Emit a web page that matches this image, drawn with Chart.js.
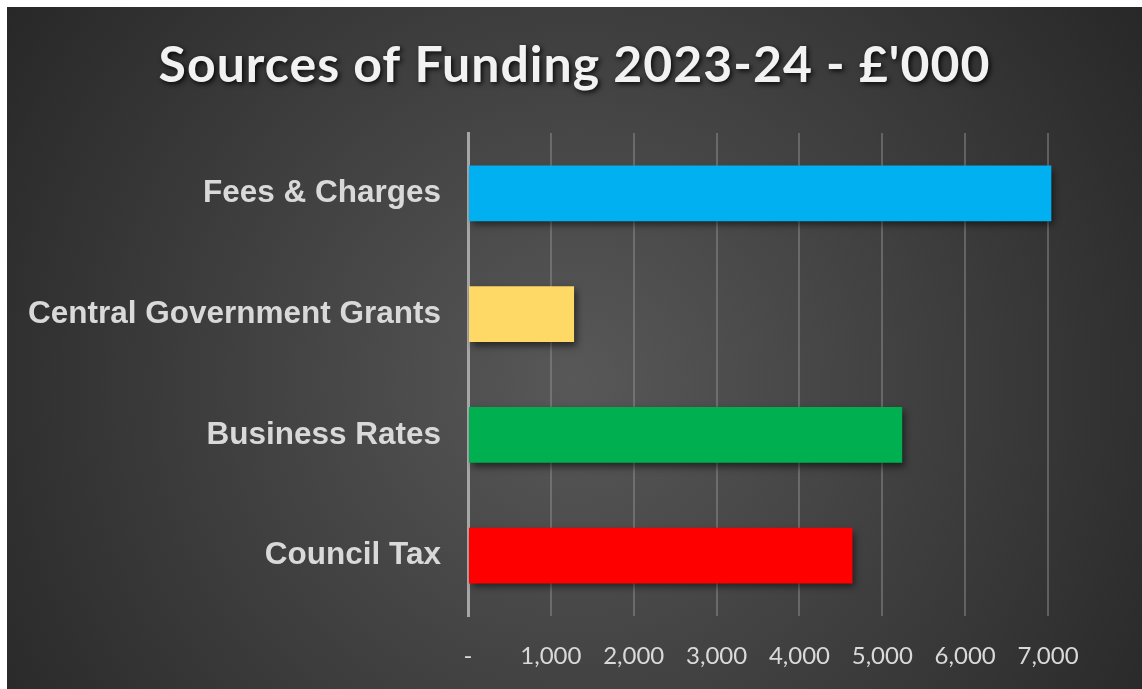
<!DOCTYPE html>
<html>
<head>
<meta charset="utf-8">
<script src="https://cdn.jsdelivr.net/npm/chart.js@4/dist/chart.umd.min.js"></script>
<style>
  html, body { margin: 0; background: #fff; }
  #wrap { position: absolute; left: 7px; top: 7px; width: 1135px; height: 682px; }
</style>
</head>
<body>
<div id="wrap"><canvas id="chart"></canvas></div>
<script>
// data (£'000)
const categories = ['Fees & Charges', 'Central Government Grants', 'Business Rates', 'Council Tax'];
const funding = [7040, 1280, 5240, 4640];
const barColours = ['#00B0F0', '#FFD966', '#00B050', '#FF0000'];
const tickValues = [0, 1000, 2000, 3000, 4000, 5000, 6000, 7000];

// dark radial backdrop + shadow on the title
const backdrop = {
  id: 'backdrop',
  beforeDraw(chart) {
    const { ctx, width, height } = chart;
    const g = ctx.createRadialGradient(width * 0.5, height * 0.55, 0, width * 0.5, height * 0.55, width * 0.62);
    g.addColorStop(0, '#585858');
    g.addColorStop(1, '#262626');
    ctx.save();
    ctx.fillStyle = g;
    ctx.fillRect(0, 0, width, height);
    ctx.restore();

    const tb = chart.titleBlock;
    if (tb && !tb._shadowed) {
      const orig = tb.draw.bind(tb);
      tb.draw = function (area) {
        const c = chart.ctx;
        c.save();
        c.letterSpacing = '1px';
        c.shadowColor = 'rgba(0,0,0,0.85)';
        c.shadowBlur = 5;
        c.shadowOffsetX = 2;
        c.shadowOffsetY = 2;
        orig(area);
        c.restore();
      };
      tb._shadowed = true;
    }
  }
};

const barShadow = {
  id: 'barShadow',
  beforeDatasetsDraw(chart) {
    const c = chart.ctx;
    c.save();
    c.shadowColor = 'rgba(0,0,0,0.55)';
    c.shadowBlur = 7;
    c.shadowOffsetX = 3;
    c.shadowOffsetY = 4;
  },
  afterDatasetsDraw(chart) {
    chart.ctx.restore();
  }
};

new Chart(document.getElementById('chart'), {
  type: 'bar',
  data: {
    labels: categories,
    datasets: [{
      data: funding,
      backgroundColor: barColours,
      borderWidth: 0,
      barPercentage: 0.46,
      categoryPercentage: 1,
    }]
  },
  options: {
    indexAxis: 'y',
    responsive: true,
    maintainAspectRatio: false,
    animation: false,
    layout: { padding: 0 },
    plugins: {
      legend: { display: false },
      tooltip: { enabled: false },
      title: {
        display: true,
        text: "Sources of Funding 2023-24 - £'000",
        color: '#f2f2f2',
        font: { family: 'Lato', size: 50, weight: 'bold' },
        padding: { top: 29, bottom: 37 }
      }
    },
    scales: {
      x: {
        min: 0,
        max: 8134, // axis runs past the last tick, empty space on the right
        afterBuildTicks(s) { s.ticks = tickValues.map(v => ({ value: v })); },
        afterFit(s) { s.height = 73; },
        grid: {
          color: c => (c.tick && c.tick.value === 0) ? 'rgba(0,0,0,0)' : 'rgba(150,150,150,0.45)',
          lineWidth: 2,
          drawTicks: false
        },
        border: { display: false },
        ticks: {
          color: '#d9d9d9',
          font: { family: 'Lato', size: 24 },
          padding: 26,
          callback: v => v === 0 ? '-' : v.toLocaleString('en-GB')
        }
      },
      y: {
        afterFit(s) { s.width = 461; },
        grid: { display: false },
        border: { color: '#a6a6a6', width: 3 },
        ticks: {
          color: '#d9d9d9',
          font: { family: 'Liberation Sans', size: 31.5, weight: 'bold' },
          padding: 19
        }
      }
    }
  },
  plugins: [backdrop, barShadow]
});
</script>
</body>
</html>
